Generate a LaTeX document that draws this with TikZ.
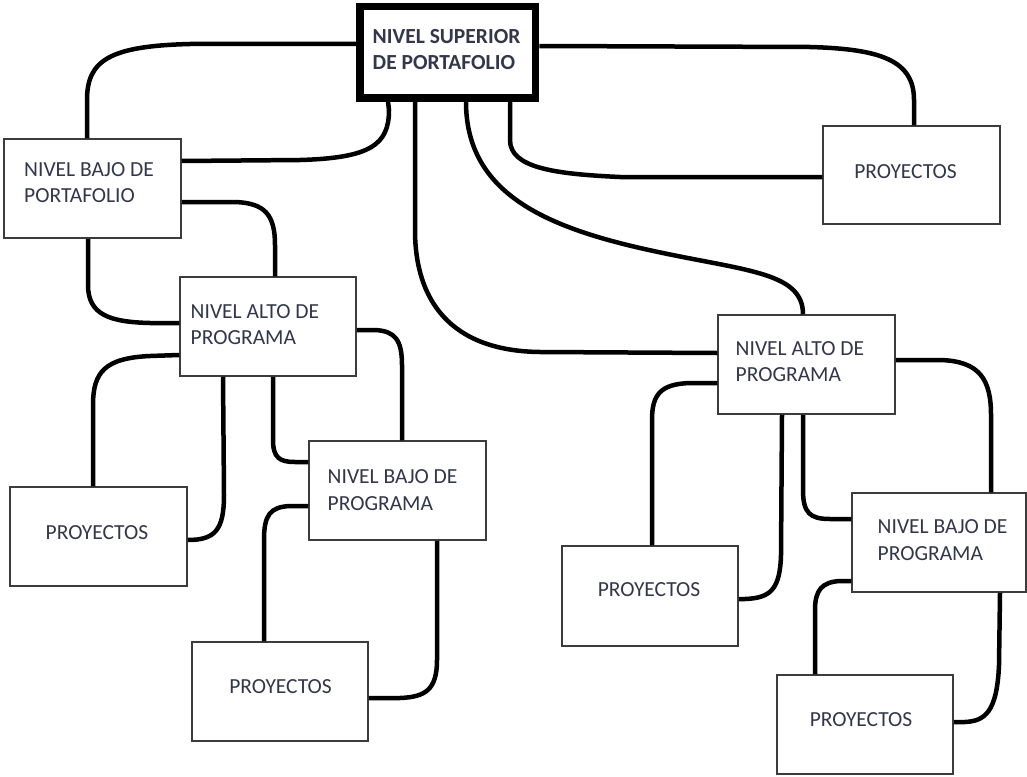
\documentclass[tikz,border=0pt]{standalone}
\usepackage{fontspec}
\setmainfont{Carlito}
\definecolor{txt}{RGB}{50,55,75}
\definecolor{boxgray}{RGB}{60,60,60}
\begin{document}
\begin{tikzpicture}[x=1pt,y=-1pt,
  box/.style={draw=boxgray, line width=1.5pt, minimum width=177, minimum height=99, inner sep=0pt},
  topbox/.style={draw=black, line width=7.5pt, minimum width=175.5, minimum height=91.5, inner sep=0pt},
  lbl/.style={text=txt, font=\fontsize{21.5}{26.5}\selectfont, inner sep=0pt, align=left},
  lblb/.style={text=txt, font=\bfseries\fontsize{21.5}{25.5}\selectfont, inner sep=0pt, align=left},
  conn/.style={draw=black, line width=4.5pt, line join=round}]
\fill[white] (0,0) rectangle (1027,776);
\useasboundingbox (0,0) rectangle (1027,776);

% boxes
\node[topbox] (top) at (447.75,52.25) {};
\node[box] (b2) at (92.5,188.5) {};
\node[box, minimum width=176] (b3) at (268,326.5) {};
\node[box] (b4) at (397.5,490.5) {};
\node[box] (b5) at (98.5,536.5) {};
\node[box, minimum width=176] (b6) at (280,691.5) {};
\node[box, minimum height=98] (b7) at (911.5,175) {};
\node[box] (b8) at (806.5,364.5) {};
\node[box, minimum width=174] (b9) at (939,542.5) {};
\node[box, minimum width=176, minimum height=100] (b10) at (650,596) {};
\node[box, minimum width=176] (b11) at (865,724.5) {};

% labels
\node[lblb, anchor=west] (t1) at (372.5,49.5) {NIVEL SUPERIOR\\DE PORTAFOLIO};
\node[lbl, anchor=west] (t2) at (24,182.5) {NIVEL BAJO DE\\PORTAFOLIO};
\node[lbl, anchor=west] (t3) at (190.5,324.5) {NIVEL ALTO DE\\PROGRAMA};
\node[lbl, anchor=west] (t4) at (327.5,490) {NIVEL BAJO DE\\PROGRAMA};
\node[lbl, anchor=west] (t8) at (735.5,361.5) {NIVEL ALTO DE\\PROGRAMA};
\node[lbl, anchor=west] (t9) at (877.5,540) {NIVEL BAJO DE\\PROGRAMA};
\node[lbl] (t5) at (97,533) {PROYECTOS};
\node[lbl] (t6) at (280.5,687) {PROYECTOS};
\node[lbl] (t7) at (905.5,172) {PROYECTOS};
\node[lbl] (t10) at (649,590) {PROYECTOS};
\node[lbl] (t11) at (861,720) {PROYECTOS};

% connectors from the portfolio top level
\draw[conn] (top.west |- 0,44) -- (190,44) .. controls (110,46) and (87,60) .. (87,100) -- (87,0 |- b2.north);
\draw[conn] (top.east |- 0,46) -- (810,47) .. controls (880,49) and (914,60) .. (914,100) -- (914,0 |- b7.north);
\draw[conn] (388,0 |- top.south) -- (389,110) .. controls (389,145) and (370,158) .. (300,160) -- (b2.east |- 0,161);
\draw[conn] (415,0 |- top.south) -- (415,230) .. controls (415,300) and (450,351) .. (540,352) -- (b8.west |- 0,353);
\draw[conn] (466,0 |- top.south) .. controls (466,190) and (540,225) .. (640,248) .. controls (740,271) and (803,270) .. (803,0 |- b8.north);
\draw[conn] (510,0 |- top.south) -- (510,140) .. controls (510,168) and (555,174) .. (620,177) -- (b7.west |- 0,177);

% lower portfolio level to left program
\draw[conn] (b2.east |- 0,202) -- (235,202) .. controls (265,203) and (275,215) .. (275,245) -- (275,0 |- b3.north);
\draw[conn] (88,0 |- b2.south) -- (88,285) .. controls (88,315) and (110,322) .. (150,323) -- (b3.west |- 0,323);

% left program branch
\draw[conn] (b3.west |- 0,355) -- (150,356) .. controls (105,358) and (93,372) .. (93,405) -- (93,0 |- b5.north);
\draw[conn] (223,0 |- b3.south) -- (224,495) .. controls (224,530) and (215,540) .. (b5.east |- 0,540);
\draw[conn] (273,0 |- b3.south) -- (273,440) .. controls (273,458) and (280,462) .. (295,462) -- (b4.west |- 0,462);
\draw[conn] (b3.east |- 0,330) -- (375,330) .. controls (395,331) and (402,340) .. (402,365) -- (402,0 |- b4.north);
\draw[conn] (b4.west |- 0,506) -- (290,506) .. controls (270,507) and (264,515) .. (264,540) -- (264,0 |- b6.north);
\draw[conn] (437,0 |- b4.south) -- (437,660) .. controls (437,690) and (425,697) .. (400,698) -- (b6.east |- 0,698);

% right program branch
\draw[conn] (b8.west |- 0,383) -- (690,383) .. controls (660,384) and (652,395) .. (652,420) -- (652,0 |- b10.north);
\draw[conn] (782,0 |- b8.south) -- (781,555) .. controls (780,590) and (770,598) .. (745,599) -- (b10.east |- 0,599);
\draw[conn] (803,0 |- b8.south) -- (803,490) .. controls (803,513) and (810,519) .. (830,519) -- (b9.west |- 0,519);
\draw[conn] (b8.east |- 0,360) -- (940,360) .. controls (980,361) and (991,380) .. (991,415) -- (991,0 |- b9.north);
\draw[conn] (b9.west |- 0,581) -- (840,581) .. controls (822,582) and (815,590) .. (815,610) -- (815,0 |- b11.north);
\draw[conn] (1000,0 |- b9.south) -- (999,665) .. controls (997,712) and (985,721) .. (965,722) -- (b11.east |- 0,722);
\end{tikzpicture}
\end{document}
